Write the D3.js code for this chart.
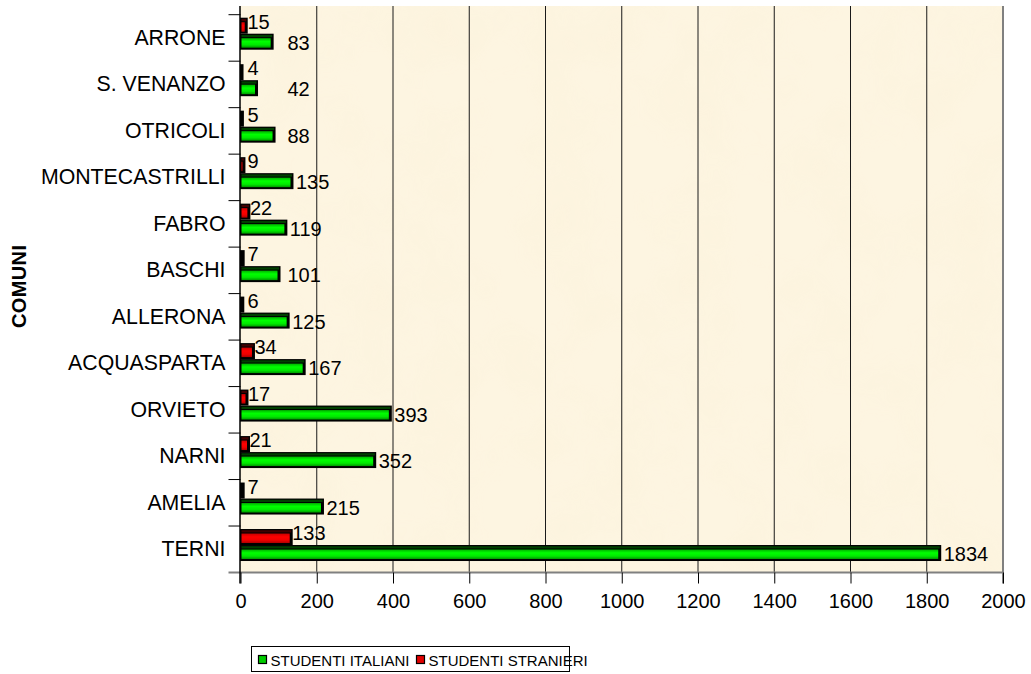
<!DOCTYPE html>
<html>
<head>
<meta charset="utf-8">
<script src="https://cdn.jsdelivr.net/npm/d3@7"></script>
<style>
    body { margin: 0; background: #ffffff; }
    svg { display: block; font-family: "Liberation Sans", Arial, sans-serif; }
</style>
</head>
<body>
<div id="barChartGrf"></div>
<script>
// chart data (top to bottom as in the picture)
const comuni = ["ARRONE", "S. VENANZO", "OTRICOLI", "MONTECASTRILLI", "FABRO", "BASCHI",
    "ALLERONA", "ACQUASPARTA", "ORVIETO", "NARNI", "AMELIA", "TERNI"];
const studentiItaliani = [83, 42, 88, 135, 119, 101, 125, 167, 393, 352, 215, 1834];
const studentiStranieri = [15, 4, 5, 9, 22, 7, 6, 34, 17, 21, 7, 133];
const xTicks = [0, 200, 400, 600, 800, 1000, 1200, 1400, 1600, 1800, 2000];
const seriesNames = ["STUDENTI STRANIERI", "STUDENTI ITALIANI"];
const legendNames = ["STUDENTI ITALIANI", "STUDENTI STRANIERI"];
const axisTitle = "COMUNI";

const W = 1031, H = 674;

function drawBarChart() {
    // plot area
    let left = 240.5, right = 1003;
    let top = 14.7, bottom = 572.5;
    let wallTop = 6;

    let svg = d3.select("#barChartGrf").append("svg")
        .attr("width", W)
        .attr("height", H);

    let defs = svg.append("defs");

    // parchment texture for the back wall
    let flt = defs.append("filter").attr("id", "paper")
        .attr("x", 0).attr("y", 0).attr("width", 1).attr("height", 1);
    flt.append("feTurbulence")
        .attr("type", "fractalNoise")
        .attr("baseFrequency", 0.015)
        .attr("numOctaves", 3)
        .attr("seed", 4);
    flt.append("feColorMatrix")
        .attr("type", "matrix")
        .attr("values", "0 0 0 0 0.96  0 0 0 0 0.87  0 0 0 0 0.68  0 0 0 -1.6 1.0");
    flt.append("feComposite").attr("in2", "SourceGraphic").attr("operator", "in");

    // bar gradients
    function grad(id, stops) {
        let g = defs.append("linearGradient").attr("id", id)
            .attr("x1", 0).attr("y1", 0).attr("x2", 0).attr("y2", 1);
        stops.forEach(s => g.append("stop").attr("offset", s[0]).attr("stop-color", s[1]));
    }
    grad("gGreen", [["0%", "#00b000"], ["35%", "#00ff00"], ["70%", "#00e800"], ["100%", "#009800"]]);
    grad("gRed", [["0%", "#c80000"], ["35%", "#ff0000"], ["70%", "#f00000"], ["100%", "#b00000"]]);

    const colors = {
        "STUDENTI ITALIANI": { front: "url(#gGreen)", dark: "#004000", swatch: "#00cc00" },
        "STUDENTI STRANIERI": { front: "url(#gRed)", dark: "#400000", swatch: "#e00000" }
    };

    // scales
    let x = d3.scaleLinear().domain([0, 2000]).range([left, right]);
    let y = d3.scaleBand().domain(comuni).range([top, bottom]);
    let y1 = d3.scaleBand().domain(seriesNames).range([3, 35]);

    // back wall
    svg.append("rect")
        .attr("x", left - 0.5).attr("y", wallTop)
        .attr("width", right - left + 0.5).attr("height", bottom - wallTop)
        .attr("fill", "#fdf5e1");
    svg.append("rect")
        .attr("x", left - 0.5).attr("y", wallTop)
        .attr("width", right - left + 0.5).attr("height", bottom - wallTop)
        .attr("fill", "#fff")
        .attr("filter", "url(#paper)")
        .attr("opacity", 0.35);

    // grid
    svg.append("g").selectAll("line")
        .data(xTicks.filter(t => t > 0 && t < 2000))
        .join("line")
        .attr("x1", d => x(d)).attr("x2", d => x(d))
        .attr("y1", wallTop).attr("y2", bottom)
        .attr("stroke", "#1a1a1a")
        .attr("stroke-width", 1);

    // right wall edge and floor
    svg.append("line")
        .attr("x1", right).attr("x2", right)
        .attr("y1", wallTop).attr("y2", bottom + 11)
        .attr("stroke", "#808080").attr("stroke-width", 2);
    svg.append("line")
        .attr("x1", left - 12).attr("x2", right)
        .attr("y1", bottom).attr("y2", bottom)
        .attr("stroke", "#808080").attr("stroke-width", 2);

    // x axis
    let xAxis = svg.append("g")
        .attr("transform", "translate(0," + bottom + ")")
        .call(d3.axisBottom(x).tickValues(xTicks).tickFormat(d3.format("d"))
            .tickSize(11).tickPadding(10.5));
    xAxis.select(".domain").remove();
    xAxis.selectAll("line").attr("stroke", "#000");
    xAxis.selectAll("text")
        .attr("font-size", "20px")
        .attr("font-family", "'Liberation Sans', Arial, sans-serif")
        .attr("fill", "#000");

    // y axis labels at band centres
    let yAxis = svg.append("g")
        .attr("transform", "translate(" + left + ",0)")
        .call(d3.axisLeft(y).tickSize(0).tickPadding(15));
    yAxis.select(".domain").remove();
    yAxis.selectAll("text")
        .attr("font-size", "21.3px")
        .attr("font-family", "'Liberation Sans', Arial, sans-serif")
        .attr("fill", "#000");

    // category separators
    let seps = comuni.map(c => y(c));
    svg.append("g").selectAll("line")
        .data(seps)
        .join("line")
        .attr("x1", left - 12).attr("x2", left)
        .attr("y1", d => d).attr("y2", d => d)
        .attr("stroke", "#000");

    // left axis line
    svg.append("line")
        .attr("x1", left - 0.5).attr("x2", left - 0.5)
        .attr("y1", wallTop).attr("y2", bottom + 11)
        .attr("stroke", "#000").attr("stroke-width", 1.5);

    // bars
    let rows = [];
    comuni.forEach((c, i) => {
        rows.push({ cat: c, s: "STUDENTI STRANIERI", v: studentiStranieri[i] });
        rows.push({ cat: c, s: "STUDENTI ITALIANI", v: studentiItaliani[i] });
    });

    let bars = svg.append("g").selectAll("g")
        .data(rows)
        .join("g");

    bars.each(function (d) {
        let g = d3.select(this);
        let x0 = x(0), x1 = x(d.v);
        let ys = y(d.cat) + y1(d.s);
        let h = y1.bandwidth();
        // black outline block
        g.append("rect")
            .attr("x", x0 - 0.5).attr("y", ys)
            .attr("width", x1 - x0 + 2).attr("height", h)
            .attr("fill", "#000");
        if (x1 - x0 > 3) {
            // top face
            g.append("rect")
                .attr("x", x0 + 1).attr("y", ys + 1.2)
                .attr("width", x1 - x0 - 1).attr("height", 2.3)
                .attr("fill", colors[d.s].dark);
            // front face
            g.append("rect")
                .attr("x", x0 + 1).attr("y", ys + 4.5)
                .attr("width", x1 - x0 - 2.5).attr("height", h - 6.5)
                .attr("fill", colors[d.s].front);
        }
    });

    // value labels
    svg.append("g").selectAll("text")
        .data(rows)
        .join("text")
        .attr("x", d => d.s === "STUDENTI ITALIANI"
            ? Math.max(x(d.v) + 4, x(0) + 47)
            : Math.max(x(d.v) + 1, x(0) + 7))
        .attr("y", d => d.s === "STUDENTI ITALIANI"
            ? y(d.cat) + y1(d.s) + 9
            : y(d.cat) + y1(d.s) + 4)
        .attr("dy", "0.35em")
        .attr("font-size", "20px")
        .attr("fill", "#000")
        .text(d => d.v);

    // axis title
    svg.append("text")
        .attr("transform", "translate(26," + 286.5 + ") rotate(-90)")
        .attr("text-anchor", "middle")
        .attr("font-size", "20px")
        .attr("font-weight", "bold")
        .attr("textLength", 83)
        .text(axisTitle);

    // legend
    let lg = svg.append("g");
    lg.append("rect")
        .attr("x", 251.5).attr("y", 646.5)
        .attr("width", 318).attr("height", 25)
        .attr("fill", "#fff")
        .attr("stroke", "#000").attr("stroke-width", 1);
    let lx = [258.5, 416.5];
    legendNames.forEach((n, i) => {
        lg.append("rect")
            .attr("x", lx[i]).attr("y", 655.5)
            .attr("width", 8).attr("height", 8)
            .attr("fill", colors[n].swatch)
            .attr("stroke", "#000").attr("stroke-width", 1.2);
        lg.append("text")
            .attr("x", lx[i] + 12).attr("y", 665.5)
            .attr("font-size", "15px")
            .text(n);
    });
}

drawBarChart();
</script>
</body>
</html>
